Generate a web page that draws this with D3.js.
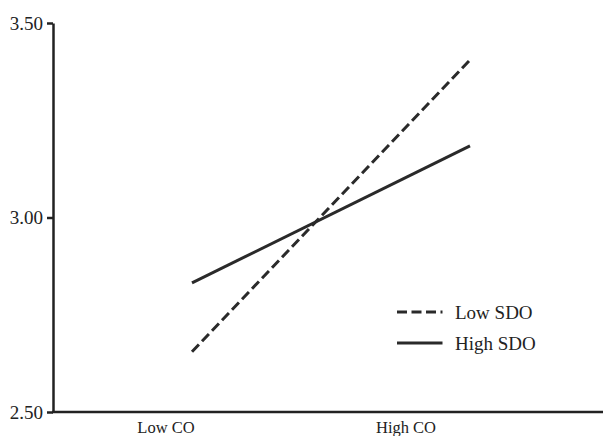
<!DOCTYPE html>
<html>
<head>
<meta charset="utf-8">
<script src="https://cdn.jsdelivr.net/npm/d3@7"></script>
<style>
  html, body { margin: 0; padding: 0; background: #fff; }
  text { font-family: "Liberation Serif", "Times New Roman", serif; fill: #222; }
</style>
</head>
<body>
<div id="chart"></div>
<script>
// simple slopes plot: CO (low/high) x SDO (low/high)
const categories = ['Low CO', 'High CO'];
const lowSDO = [2.655, 3.405];
const highSDO = [2.832, 3.184];
const yTicks = [2.5, 3.0, 3.5];
const seriesNames = ['Low SDO', 'High SDO'];

const width = 603, height = 436;
const svg = d3.select('#chart').append('svg')
  .attr('width', width)
  .attr('height', height);

const y = d3.scaleLinear().domain([2.5, 3.5]).range([412, 23]);
// line endpoints and category labels don't share the same x in the original
const xLine = d3.scalePoint().domain(categories).range([192, 470]);
const xLabel = d3.scalePoint().domain(categories).range([166, 406]);

// y axis
const yAxis = d3.axisLeft(y)
  .tickValues(yTicks)
  .tickFormat(d3.format('.2f'))
  .tickSize(6)
  .tickSizeOuter(0);
const gy = svg.append('g').attr('transform', 'translate(53,0)').call(yAxis);
gy.select('.domain').attr('stroke', '#222').attr('stroke-width', 2.5);
gy.selectAll('.tick line').attr('stroke', '#222').attr('stroke-width', 2.5);
gy.selectAll('.tick text')
  .attr('x', -10)
  .style('font-size', '19px')
  .style('font-family', '"Liberation Serif", serif')
  .attr('fill', '#222');

// x axis line runs to the right edge
svg.append('line')
  .attr('x1', 52).attr('x2', width)
  .attr('y1', y(2.5)).attr('y2', y(2.5))
  .attr('stroke', '#222').attr('stroke-width', 2.5);

svg.append('g').selectAll('text')
  .data(categories)
  .join('text')
  .attr('x', d => xLabel(d))
  .attr('y', 433)
  .attr('text-anchor', 'middle')
  .style('font-size', '16.5px')
  .text(d => d);

// series lines
const line = d3.line().x((d, i) => xLine(categories[i])).y(d => y(d));
const series = [
  { name: seriesNames[0], values: lowSDO, dash: '10,4.5' },
  { name: seriesNames[1], values: highSDO, dash: null }
];

svg.append('g').selectAll('path')
  .data(series)
  .join('path')
  .attr('d', d => line(d.values))
  .attr('fill', 'none')
  .attr('stroke', '#2a2a2a')
  .attr('stroke-width', 3)
  .attr('stroke-dasharray', d => d.dash);

// legend
const legend = svg.append('g').selectAll('g')
  .data(series)
  .join('g')
  .attr('transform', (d, i) => `translate(397,${312 + i * 31})`);

legend.append('line')
  .attr('x1', 0).attr('x2', 45.5)
  .attr('stroke', '#2a2a2a')
  .attr('stroke-width', 3)
  .attr('stroke-dasharray', d => d.dash);

legend.append('text')
  .attr('x', 58)
  .attr('dy', '0.35em')
  .style('font-size', '19px')
  .text(d => d.name);
</script>
</body>
</html>
